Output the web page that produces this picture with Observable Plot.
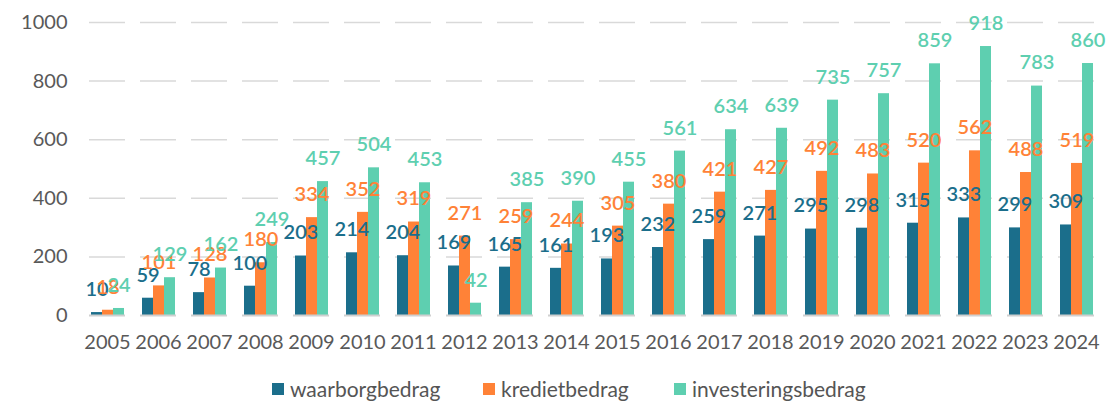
<!DOCTYPE html>
<html><head><meta charset="utf-8">
<script src="https://cdn.jsdelivr.net/npm/d3@7"></script>
<script src="https://cdn.jsdelivr.net/npm/@observablehq/plot@0.6"></script>
<style>
body{margin:0;background:#fff;font-family:Lato,"Noto Sans",sans-serif;}
#legend{position:relative;height:42px;}
.item{position:absolute;top:18px;display:flex;align-items:center;font-size:21px;color:#555;line-height:22px;}
.sw{width:12px;height:12px;margin-right:6px;display:inline-block;}
</style></head><body><div id="chart"></div><div id="legend"></div>
<script>
const years = ["2005","2006","2007","2008","2009","2010","2011","2012","2013","2014","2015","2016","2017","2018","2019","2020","2021","2022","2023","2024"];
const seriesNames = ["waarborgbedrag","kredietbedrag","investeringsbedrag"];
const seriesColors = ["#1b6e8b","#ff8237","#5ecfb0"];
const waarborgbedrag = [10,59,78,100,203,214,204,169,165,161,193,232,259,271,295,298,315,333,299,309];
const kredietbedrag = [18,101,128,180,334,352,319,271,259,244,305,380,421,427,492,483,520,562,488,519];
const investeringsbedrag = [24,129,162,249,457,504,453,42,385,390,455,561,634,639,735,757,859,918,783,860];
const yTicks = [0,200,400,600,800,1000];

const seriesValues = [waarborgbedrag, kredietbedrag, investeringsbedrag];
const rows = years.flatMap((yr,i) => seriesNames.map((s,j) => ({year: yr, series: s, value: seriesValues[j][i]})));

const chart = Plot.plot({
  width: 1109, height: 360,
  marginLeft: 77, marginRight: 3, marginTop: 22, marginBottom: 45,
  style: {fontFamily: 'Lato,"Noto Sans",sans-serif', fontSize: "20px", color: "#595959", background: "#fff"},
  fx: {domain: years, paddingInner: 0.3, paddingOuter: 0.15, label: null, tickSize: 0, tickPadding: 19},
  x: {domain: seriesNames, padding: 0.04, axis: null},
  y: {domain: [0, 1000], ticks: yTicks, tickFormat: d => String(d), label: null, tickSize: 0, tickPadding: 22},
  color: {domain: seriesNames, range: seriesColors},
  marks: [
    Plot.ruleY(yTicks.filter(d => d > 0), {stroke: "#d9d9d9", strokeWidth: 1.5}),
    Plot.barY(rows, {fx: "year", x: "series", y: "value", fill: "series"}),
    Plot.ruleY([0], {stroke: "#d0d0d0", strokeWidth: 2}),
    Plot.text(rows, {fx: "year", x: "series", y: "value", text: d => String(d.value), fill: "series", dy: -23, fontSize: 20, fontWeight: 600})
  ]
});
document.getElementById("chart").appendChild(chart);

const legend = document.getElementById("legend");
const lx = [272, 483, 674];
seriesNames.forEach((s,i) => {
  const it = document.createElement("div");
  it.className = "item";
  it.style.left = lx[i] + "px";
  it.innerHTML = `<span class="sw" style="background:${seriesColors[i]}"></span>${s}`;
  legend.appendChild(it);
});
</script></body></html>
